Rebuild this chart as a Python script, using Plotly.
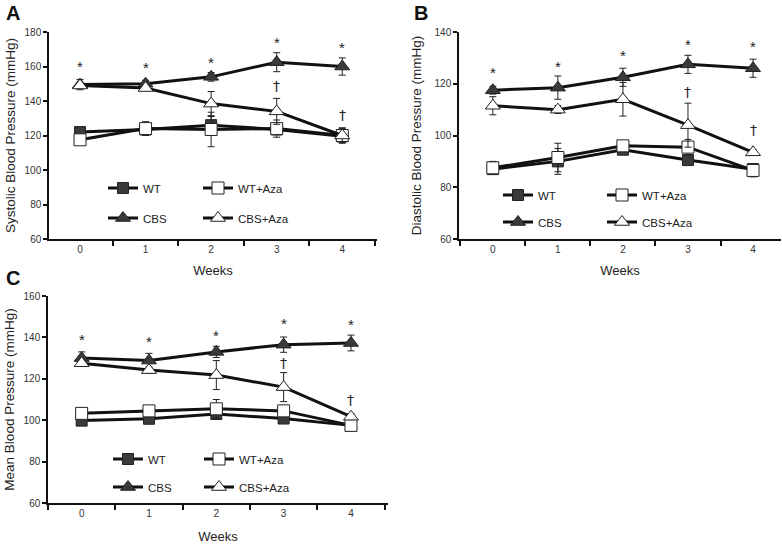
import plotly.graph_objects as go

weeks = ["0", "1", "2", "3", "4"]
series_names = ["WT", "WT+Aza", "CBS", "CBS+Aza"]

# Panel A: Systolic
sys_wt = [122, 123.5, 126, 123.5, 119.5]
sys_wt_err = [2, 3, 5, 3, 3]
sys_wtaza = [117.5, 124, 123.5, 124, 120]
sys_wtaza_err = [2, 4, 10, 5, 4.5]
sys_cbs = [149.5, 150, 154, 162.5, 160]
sys_cbs_err = [3, 2, 2.5, 5.5, 5]
sys_cbsaza = [149, 147.5, 138.5, 134, 120]
sys_cbsaza_err = [1.5, 1.5, 7, 7.5, 4]
sys_star_y = [161.5, 161, 164, 175.5, 173]
sys_dagger_x = [3, 4]
sys_dagger_y = [148.5, 132]

# Panel B: Diastolic
dia_wt = [87, 90, 94.5, 90.5, 87]
dia_wt_err = [1.5, 5, 1.5, 1.5, 1.5]
dia_wtaza = [87.5, 91.5, 96, 95.5, 86.5]
dia_wtaza_err = [2.5, 5.5, 2, 3, 2.5]
dia_cbs = [117.5, 118.5, 122.5, 127.5, 126]
dia_cbs_err = [1.5, 4.5, 3.5, 3.5, 3.5]
dia_cbsaza = [111.5, 110, 114, 104, 93.5]
dia_cbsaza_err = [3.5, 1.5, 6.5, 8.5, 1]
dia_star_y = [125.5, 128, 132, 136.5, 135.5]
dia_dagger_x = [3, 4]
dia_dagger_y = [117, 102]

# Panel C: Mean
mean_wt = [99.8, 100.7, 103, 100.8, 97.5]
mean_wt_err = [1.5, 2, 2, 1.5, 1]
mean_wtaza = [103.3, 104.5, 105.5, 104.5, 97.5]
mean_wtaza_err = [2.5, 1.5, 4.5, 2.5, 1.5]
mean_cbs = [130, 128.8, 133, 136.5, 137.3]
mean_cbs_err = [3, 3.5, 2.7, 3.7, 3.8]
mean_cbsaza = [127.5, 124.2, 121.8, 116, 101.7]
mean_cbsaza_err = [1.5, 1.5, 7, 7, 1.5]
mean_star_y = [140.3, 139.5, 142.3, 148, 147.6]
mean_dagger_x = [3, 4]
mean_dagger_y = [127.8, 110]

FONT = "Liberation Sans, Arial, sans-serif"
W, H = 782, 545

styles = {
    "WT": dict(symbol="square", color="#3a3a3a", size=11),
    "WT+Aza": dict(symbol="square", color="white", size=12),
    "CBS": dict(symbol="triangle-up", color="#3a3a3a", size=13),
    "CBS+Aza": dict(symbol="triangle-up", color="white", size=13),
}

panels = [
    dict(ax="", vals=[sys_wt, sys_wtaza, sys_cbs, sys_cbsaza],
         errs=[sys_wt_err, sys_wtaza_err, sys_cbs_err, sys_cbsaza_err],
         stars=sys_star_y, dx=sys_dagger_x, dy=sys_dagger_y,
         xdom=[49 / W, 377 / W], ydom=[1 - 239 / H, 1 - 32 / H],
         xr=[-0.473, 4.53], yr=[60, 180], title="Systolic Blood Pressure (mmHg)",
         leg_x=103, leg_y=[186, 216], ew=50, letter="A", lx=4, ly=13,
         standoff=6, xstandoff=12),
    dict(ax="2", vals=[dia_wt, dia_wtaza, dia_cbs, dia_cbsaza],
         errs=[dia_wt_err, dia_wtaza_err, dia_cbs_err, dia_cbsaza_err],
         stars=dia_star_y, dx=dia_dagger_x, dy=dia_dagger_y,
         xdom=[459 / W, 781 / W], ydom=[1 - 239 / H, 1 - 32 / H],
         xr=[-0.52, 4.43], yr=[60, 140], title="Diastolic Blood Pressure (mmHg)",
         leg_x=498, leg_y=[193, 220], ew=59, letter="B", lx=412, ly=13,
         standoff=10, xstandoff=12),
    dict(ax="3", vals=[mean_wt, mean_wtaza, mean_cbs, mean_cbsaza],
         errs=[mean_wt_err, mean_wtaza_err, mean_cbs_err, mean_cbsaza_err],
         stars=mean_star_y, dx=mean_dagger_x, dy=mean_dagger_y,
         xdom=[48 / W, 388 / W], ydom=[1 - 503 / H, 1 - 296 / H],
         xr=[-0.5, 4.55], yr=[60, 160], title="Mean Blood Pressure (mmHg)",
         leg_x=108, leg_y=[457, 485], ew=46, letter="C", lx=4, ly=278,
         standoff=6, xstandoff=14),
]

fig = go.Figure()
annotations = []
layout = dict(
    width=W, height=H, margin=dict(l=0, r=0, t=0, b=0, autoexpand=False),
    paper_bgcolor="white", plot_bgcolor="white",
    font=dict(family=FONT, color="#222"),
    showlegend=True,
)

leg_counter = 0
for p in panels:
    ax = p["ax"]
    xa, ya = "x" + ax, "y" + ax
    leg_names = []
    for row in range(2):
        leg_counter += 1
        leg_names.append("legend" if leg_counter == 1 else "legend%d" % leg_counter)
    for i, name in enumerate(series_names):
        st = styles[name]
        leg = leg_names[0] if i < 2 else leg_names[1]
        fig.add_trace(go.Scatter(
            x=weeks, y=p["vals"][i], name=name, xaxis=xa, yaxis=ya,
            mode="lines+markers", legend=leg,
            line=dict(color="#111", width=3),
            marker=dict(symbol=st["symbol"], color=st["color"], size=st["size"],
                        line=dict(color="#222", width=1)),
            error_y=dict(type="data", array=p["errs"][i], visible=True,
                         color="#222", thickness=1, width=3.5),
        ))
    for r, lname in enumerate(leg_names):
        layout[lname] = dict(
            orientation="h", x=p["leg_x"] / W, xanchor="left",
            y=1 - (p["leg_y"][r] - 12.5) / H, yanchor="top",
            entrywidth=p["ew"], entrywidthmode="pixels",
            bgcolor="rgba(0,0,0,0)", borderwidth=0,
            font=dict(family=FONT, size=11.5, color="#222"),
            tracegroupgap=0, itemclick=False,
        )
    xkey = "xaxis" + ax
    ykey = "yaxis" + ax
    layout[xkey] = dict(
        domain=p["xdom"], anchor=ya, type="category", range=p["xr"], automargin=False,
        tickson="boundaries", ticks="outside", ticklen=5, tickwidth=1.5, tickcolor="#111",
        showline=True, linecolor="#111", linewidth=1.5, showgrid=False, zeroline=False,
        tickfont=dict(family=FONT, size=10, color="#333"),
        title=dict(text="Weeks", font=dict(family=FONT, size=13, color="#222"),
                   standoff=p["xstandoff"]),
    )
    layout[ykey] = dict(
        domain=p["ydom"], anchor=xa, range=p["yr"], dtick=20, automargin=False,
        ticks="outside", ticklen=4, tickwidth=1.5, tickcolor="#111",
        showline=True, linecolor="#111", linewidth=1.5, showgrid=False, zeroline=False,
        tickfont=dict(family=FONT, size=10, color="#333"),
        title=dict(text=p["title"], font=dict(family=FONT, size=13.5, color="#222"),
                   standoff=p["standoff"]),
    )
    for k, sy in enumerate(p["stars"]):
        annotations.append(dict(x=k, y=sy, xref=xa, yref=ya, text="*", showarrow=False,
                                font=dict(family=FONT, size=15, color="#222"), yshift=-3))
    for dxv, dyv in zip(p["dx"], p["dy"]):
        annotations.append(dict(x=dxv, y=dyv, xref=xa, yref=ya, text="†", showarrow=False,
                                font=dict(family="DejaVu Sans", size=14, color="#222")))
    annotations.append(dict(x=p["lx"] / W, y=1 - p["ly"] / H, xref="paper", yref="paper",
                            xanchor="left", yanchor="middle", text="<b>%s</b>" % p["letter"],
                            showarrow=False, font=dict(family=FONT, size=20, color="#111")))

layout["annotations"] = annotations
fig.update_layout(**layout)
fig.write_html("out.html", config={"displayModeBar": False},
               post_script="document.body.style.margin='0';")
